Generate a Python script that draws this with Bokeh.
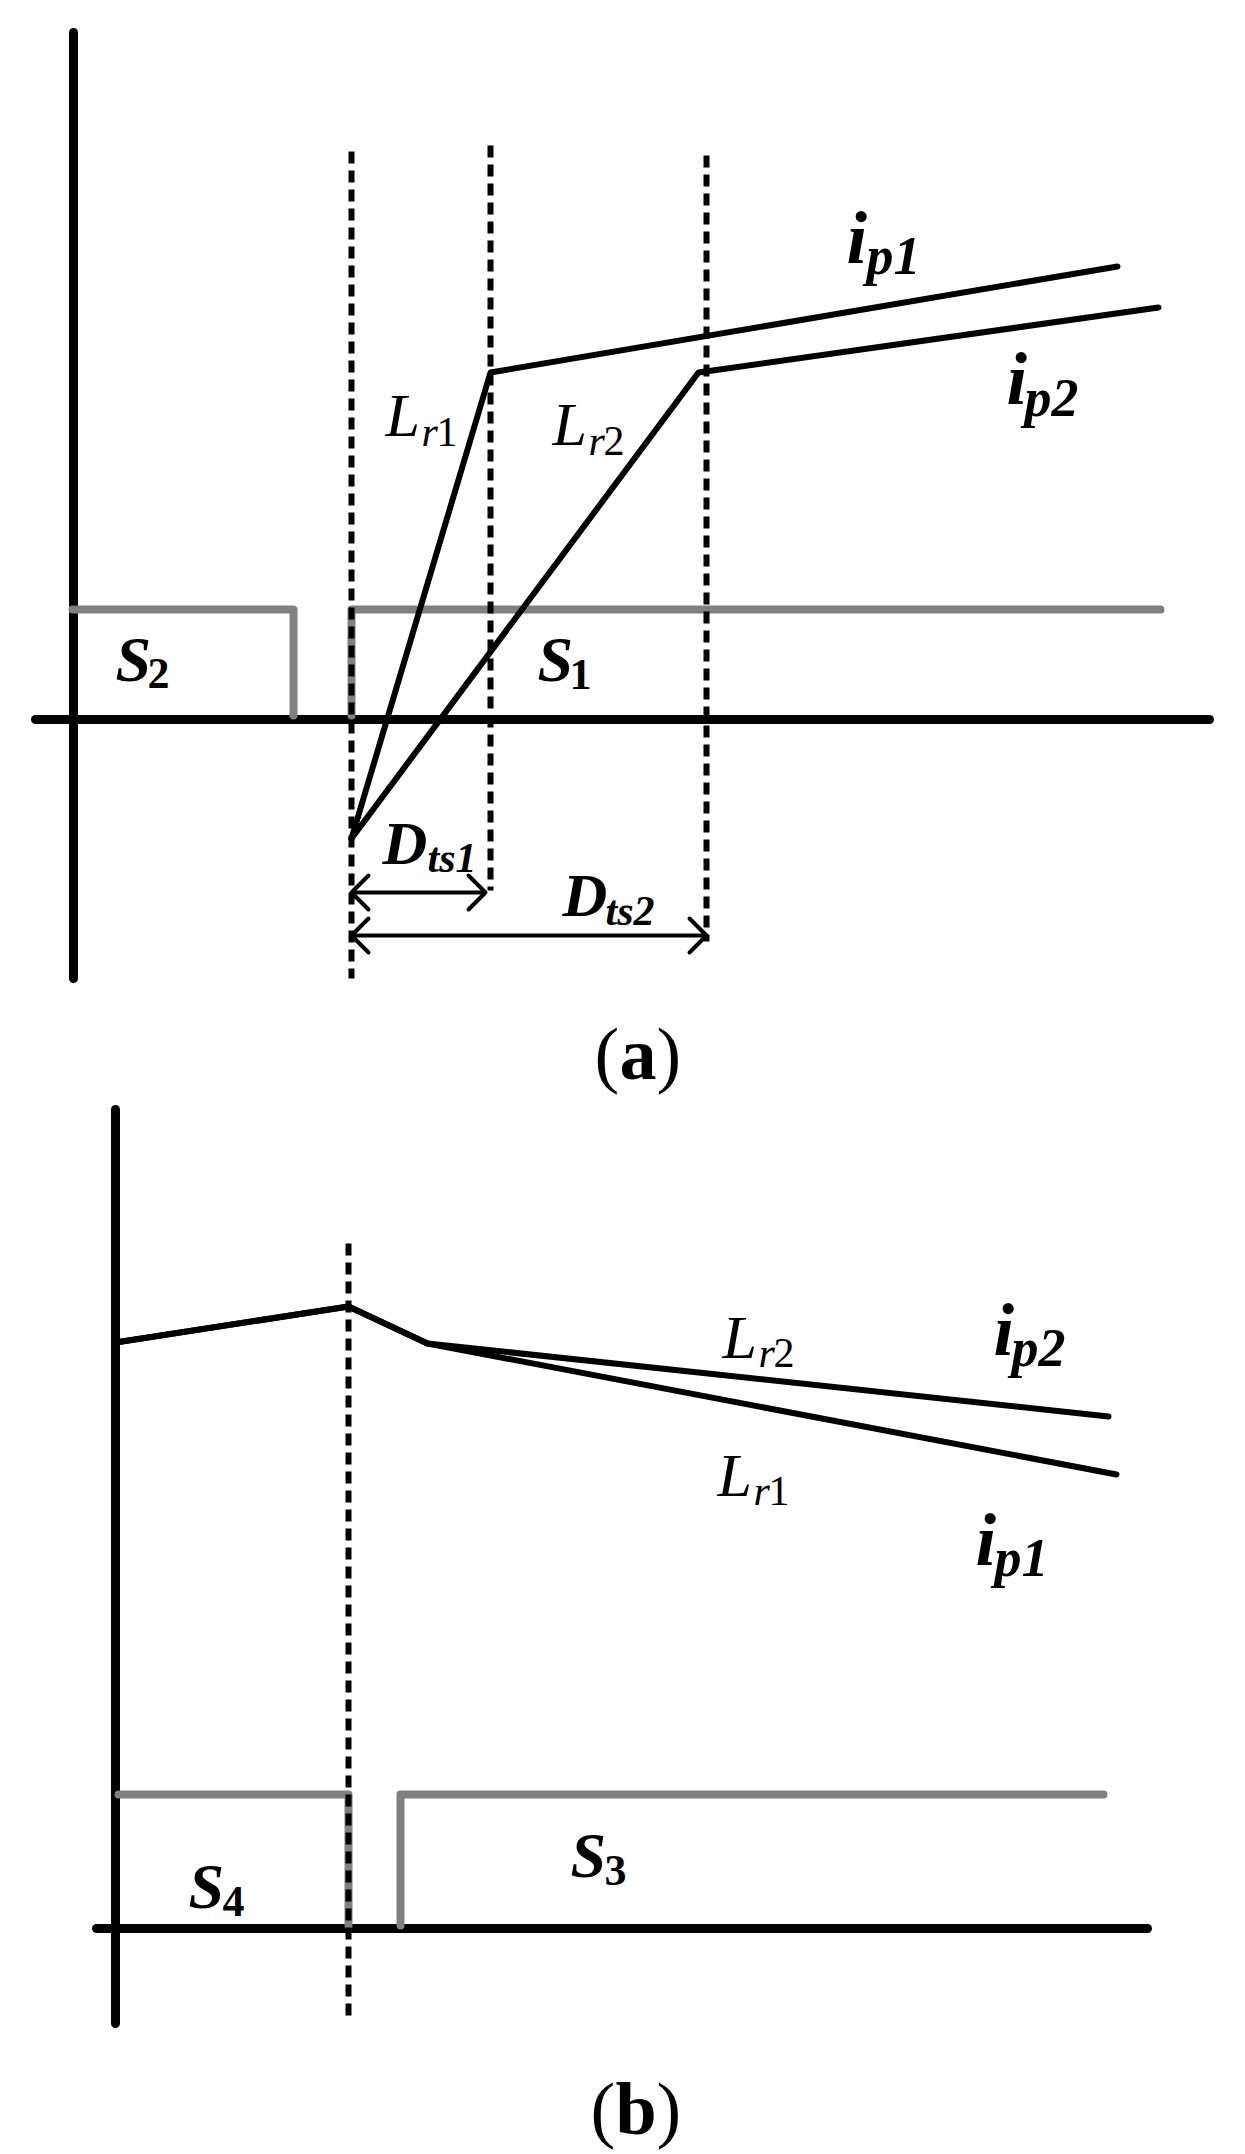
from bokeh.plotting import figure
from bokeh.models import ColumnDataSource, Range1d
from bokeh.core.properties import value
from bokeh.embed import file_html
from bokeh.resources import INLINE

W, H = 1240, 2150

# ---------------- Panel (a) ----------------
a_vaxis_x = [73, 73]
a_vaxis_y = [32, 978]
a_haxis_x = [35, 1209]
a_haxis_y = [719, 719]
a_dash_x = [351, 490, 706]
a_dash_top = [151, 145, 155]
a_dash_bot = [978, 890, 941]
a_ip1_x = [351, 490, 1117]
a_ip1_y = [838, 372, 266]
a_ip2_x = [351, 698, 1158]
a_ip2_y = [838, 372, 307]
a_S2_x = [72, 293, 293]
a_S2_y = [609, 609, 715]
a_S1_x = [351, 351, 1160]
a_S1_y = [715, 609, 609]
a_arrow_x0 = [351, 351]
a_arrow_x1 = [485, 706]
a_arrow_y = [892, 935]

# ---------------- Panel (b) ----------------
b_vaxis_x = [115, 115]
b_vaxis_y = [1109, 2023]
b_haxis_x = [96, 1147]
b_haxis_y = [1928, 1928]
b_dash_x = [348]
b_dash_top = [1243]
b_dash_bot = [2020]
b_ip2_x = [115, 348, 427, 1108]
b_ip2_y = [1342, 1306, 1343, 1416]
b_ip1_x = [115, 348, 427, 1116]
b_ip1_y = [1342, 1306, 1343, 1474]
b_S4_x = [118, 348, 348]
b_S4_y = [1794, 1794, 1925]
b_S3_x = [400, 400, 1103]
b_S3_y = [1925, 1794, 1794]

# ---------------- Labels ----------------
lab_text = ["L", "r", "1", "L", "r", "2", "S", "1", "S", "2",
            "D", "ts1", "D", "ts2", "i", "p1", "i", "p2",
            "(", "a", ")",
            "L", "r", "2", "L", "r", "1", "i", "p2", "i", "p1",
            "S", "4", "S", "3",
            "(", "b", ")"]
lab_x = [385, 421, 436, 552, 588, 603, 537, 569, 115, 147,
         382, 427, 562, 605, 846, 866, 1006, 1024,
         594, 619, 656,
         722, 758, 773, 717, 753, 768, 993, 1011, 975, 994,
         188, 222, 570, 604,
         590, 615, 656]
lab_y = [438, 447, 447, 447, 456, 456, 683, 691, 683, 690,
         866, 873, 918, 926, 266, 276, 407, 418,
         1082, 1082, 1082,
         1360, 1368, 1368, 1498, 1506, 1506, 1358, 1368, 1568, 1578,
         1910, 1918, 1879, 1887,
         2137, 2137, 2137]
lab_size = [62, 42, 42, 62, 42, 42, 64, 44, 64, 44,
            62, 42, 62, 42, 74, 54, 74, 54,
            74, 74, 74,
            62, 42, 42, 62, 42, 42, 74, 54, 74, 54,
            64, 44, 64, 44,
            74, 74, 74]
lab_style = ["italic", "italic", "normal", "italic", "italic", "normal", "bold italic", "bold", "bold italic", "bold",
             "bold italic", "bold italic", "bold italic", "bold italic", "bold italic", "bold italic", "bold italic", "bold italic",
             "normal", "bold", "normal",
             "italic", "italic", "normal", "italic", "italic", "normal", "bold italic", "bold italic", "bold italic", "bold italic",
             "bold italic", "bold", "bold italic", "bold",
             "normal", "bold", "normal"]

p = figure(width=W, height=H, output_backend="svg", toolbar_location=None,
           x_range=Range1d(0, W), y_range=Range1d(H, 0),
           min_border=0, background_fill_color="white", border_fill_color="white")
p.axis.visible = False
p.grid.visible = False
p.outline_line_color = None

BLACK = "#000000"
GRAY = "#808080"

# axes
for xs, ys in [(a_vaxis_x, a_vaxis_y), (a_haxis_x, a_haxis_y),
               (b_vaxis_x, b_vaxis_y), (b_haxis_x, b_haxis_y)]:
    p.line(xs, ys, line_color=BLACK, line_width=9, line_cap="round")

# gate signals
for xs, ys in [(a_S2_x, a_S2_y), (a_S1_x, a_S1_y), (b_S4_x, b_S4_y), (b_S3_x, b_S3_y)]:
    p.line(xs, ys, line_color=GRAY, line_width=8, line_cap="round", line_join="round")

# dashed time markers
p.segment(x0=a_dash_x + b_dash_x, y0=a_dash_top + b_dash_top,
          x1=a_dash_x + b_dash_x, y1=a_dash_bot + b_dash_bot,
          line_color=BLACK, line_width=6, line_dash="12 7", line_cap="butt")

# currents
for xs, ys in [(a_ip1_x, a_ip1_y), (a_ip2_x, a_ip2_y), (b_ip2_x, b_ip2_y), (b_ip1_x, b_ip1_y)]:
    p.line(xs, ys, line_color=BLACK, line_width=6, line_cap="round", line_join="round")

# double arrows
HEAD = 17
p.segment(x0=a_arrow_x0, y0=a_arrow_y, x1=a_arrow_x1, y1=a_arrow_y,
          line_color=BLACK, line_width=4)
cx, cy = [], []
for x0, x1, y in zip(a_arrow_x0, a_arrow_x1, a_arrow_y):
    cx.append([x0 + HEAD, x0, x0 + HEAD]); cy.append([y - HEAD, y, y + HEAD])
    cx.append([x1 - HEAD, x1, x1 - HEAD]); cy.append([y - HEAD, y, y + HEAD])
p.multi_line(cx, cy, line_color=BLACK, line_width=4, line_cap="round", line_join="round")

# labels (baseline correction for the renderer's text box)
BASE_SHIFT = 0.38
src = ColumnDataSource(dict(
    text=lab_text, x=lab_x,
    y=[yy - BASE_SHIFT * s for yy, s in zip(lab_y, lab_size)],
    size=[f"{s}px" for s in lab_size], style=lab_style))
p.text(x="x", y="y", text="text", source=src, text_font=value("Liberation Serif"),
       text_font_size="size", text_font_style="style", text_color=BLACK,
       text_align="left", text_baseline="alphabetic")

open("out.html", "w").write(file_html(p, INLINE))
